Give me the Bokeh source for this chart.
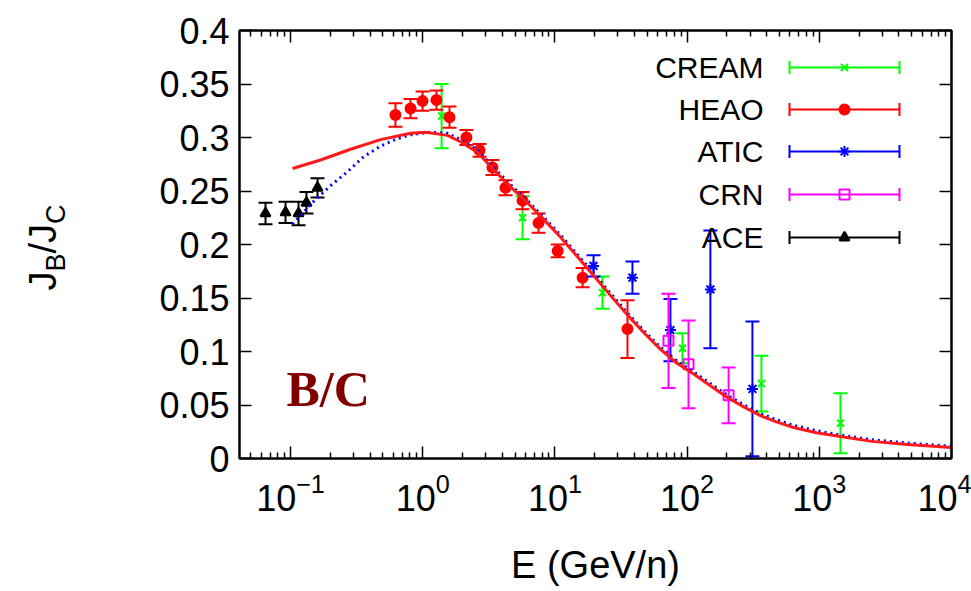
from math import log10, pi
from bokeh.plotting import figure
from bokeh.models import Range1d, LinearAxis, FixedTicker, Label, ColumnDataSource
from bokeh.core.properties import value
from bokeh.embed import file_html
from bokeh.resources import INLINE

# ---------------- data ----------------
cream_E = [1.39, 5.69, 22.9, 92.3, 365, 1446]
cream_val = [0.320, 0.225, 0.155, 0.103, 0.070, 0.033]
cream_err = [0.030, 0.020, 0.015, 0.014, 0.026, 0.028]

heao_E = [0.622, 0.809, 0.997, 1.27, 1.595, 2.14, 2.69, 3.37, 4.23, 5.69, 7.52, 10.5, 16.2, 35.4]
heao_val = [0.321, 0.327, 0.334, 0.335, 0.319, 0.300, 0.288, 0.272, 0.253, 0.241, 0.220, 0.194, 0.169, 0.121]
heao_err = [0.011, 0.009, 0.009, 0.009, 0.010, 0.007, 0.006, 0.007, 0.007, 0.008, 0.009, 0.006, 0.009, 0.027]

atic_E = [19.6, 38.6, 74.8, 150, 312]
atic_val = [0.180, 0.169, 0.120, 0.158, 0.065]
atic_err = [0.010, 0.015, 0.029, 0.055, 0.063]

crn_E = [72.3, 102.5, 206]
crn_val = [0.110, 0.088, 0.059]
crn_err = [0.044, 0.041, 0.026]

ace_E = [0.0647, 0.0917, 0.115, 0.132, 0.160]
ace_val = [0.229, 0.230, 0.229, 0.239, 0.253]
ace_err = [0.010, 0.010, 0.011, 0.010, 0.009]

# model curves
red_E = [0.1035, 0.1687, 0.2845, 0.480, 0.809, 1.05, 1.54, 1.93, 2.60, 3.43, 4.61, 6.20,
         8.3, 11.0, 14.7, 19.6, 26.5, 35.4, 47.5, 62.9, 84, 112, 150, 202, 270, 359,
         480, 638, 950, 1446, 2500, 4645, 9900]
red_val = [0.271, 0.279, 0.289, 0.298, 0.304, 0.305, 0.302, 0.296, 0.286, 0.270, 0.254, 0.239,
           0.223, 0.207, 0.189, 0.171, 0.152, 0.134, 0.117, 0.102, 0.089, 0.079, 0.068, 0.057,
           0.048, 0.040, 0.034, 0.029, 0.024, 0.0206, 0.016, 0.013, 0.0103]

blue_E = [0.1035, 0.149, 0.201, 0.27, 0.357, 0.48, 0.645, 0.85, 1.14, 1.54, 1.93, 2.60, 3.43,
          4.61, 6.20, 8.3, 11.0, 14.7, 19.6, 26.5, 35.4, 47.5, 62.9, 84, 112, 150, 202, 270,
          359, 480, 638, 950, 1446, 2500, 4645, 9900]
blue_val = [0.218, 0.239, 0.254, 0.267, 0.281, 0.291, 0.298, 0.302, 0.304, 0.303, 0.297, 0.287,
            0.271, 0.255, 0.240, 0.224, 0.208, 0.190, 0.172, 0.153, 0.135, 0.118, 0.103, 0.090,
            0.080, 0.069, 0.058, 0.049, 0.041, 0.035, 0.030, 0.025, 0.021, 0.0165, 0.0135,
            0.0105]

legend_names = ["CREAM", "HEAO", "ATIC", "CRN", "ACE"]
y_ticks = [0, 0.05, 0.1, 0.15, 0.2, 0.25, 0.3, 0.35, 0.4]
y_tick_labels = ["0", "0.05", "0.1", "0.15", "0.2", "0.25", "0.3", "0.35", "0.4"]
x_ticks = [0.1, 1, 10, 100, 1000, 10000]

# ---------------- layout ----------------
W, H = 971, 591
FL, FR, FT, FB = 239, 951, 30, 458        # frame edges in canvas px
XMIN, XMAX = 0.04113, 1.0e4
YMIN, YMAX = 0.0, 0.4
FONT = "Liberation Sans"


def px_x(px):
    """canvas x pixel -> data x (log axis)"""
    lx = log10(XMIN) + (px - FL) / (FR - FL) * (log10(XMAX) - log10(XMIN))
    return 10 ** lx


def px_y(py):
    """canvas y pixel -> data y"""
    return YMIN + (FB - py) / (FB - FT) * (YMAX - YMIN)


p = figure(width=W, height=H, x_axis_type="log",
           x_range=Range1d(XMIN, XMAX), y_range=Range1d(YMIN, YMAX),
           output_backend="svg", toolbar_location=None,
           min_border_left=FL, min_border_right=W - FR,
           min_border_top=FT, min_border_bottom=H - FB)
p.background_fill_color = "white"
p.border_fill_color = "white"
p.outline_line_color = "black"
p.outline_line_width = 2
p.xgrid.visible = False
p.ygrid.visible = False

x_minor = [m * 10 ** d for d in range(-2, 4) for m in range(2, 10) if XMIN <= m * 10 ** d <= XMAX]
xtick = FixedTicker(ticks=x_ticks, minor_ticks=x_minor)
ytick = FixedTicker(ticks=y_ticks, minor_ticks=[])


def style_axis(ax, labels=True):
    ax.axis_line_width = 2
    ax.axis_line_color = "black"
    ax.major_tick_in = 12
    ax.major_tick_out = 0
    ax.minor_tick_in = 6
    ax.minor_tick_out = 0
    ax.major_tick_line_width = 1.5
    ax.minor_tick_line_width = 1.5
    ax.major_tick_line_color = "black"
    ax.minor_tick_line_color = "black"
    if labels:
        ax.major_label_text_font = FONT
        ax.major_label_text_font_size = "36px"
        ax.major_label_text_color = "black"
    else:
        ax.major_label_standoff = 0


xa = p.xaxis[0]
xa.ticker = xtick
style_axis(xa)
xa.major_label_standoff = 14
xa.axis_label = "E (GeV/n)"
xa.axis_label_text_font = FONT
xa.axis_label_text_font_size = "38px"
xa.axis_label_text_font_style = "normal"
xa.axis_label_text_color = "black"
xa.axis_label_standoff = 30

ya = p.yaxis[0]
ya.ticker = ytick
style_axis(ya)
ya.major_label_standoff = 10
ya.major_label_overrides = {t: s for t, s in zip(y_ticks, y_tick_labels)}

# mirrored tick axes (top / right), no labels
top_ax = LinearAxis(ticker=xtick, major_label_overrides={t: "" for t in x_ticks})
style_axis(top_ax, labels=False)
p.add_layout(top_ax, "above")
right_ax = LinearAxis(ticker=ytick, major_label_overrides={t: "" for t in y_ticks})
style_axis(right_ax, labels=False)
p.add_layout(right_ax, "right")


# ---------------- data series ----------------
def series(E, val, err, color, marker, size, filled):
    lo = [v - e for v, e in zip(val, err)]
    hi = [v + e for v, e in zip(val, err)]
    src = ColumnDataSource(dict(E=E, val=val, lo=lo, hi=hi))
    p.segment(x0="E", y0="lo", x1="E", y1="hi", source=src, line_color=color, line_width=2)
    p.scatter(x="E", y="lo", marker="dash", size=14, line_color=color, line_width=2, source=src)
    p.scatter(x="E", y="hi", marker="dash", size=14, line_color=color, line_width=2, source=src)
    p.scatter(x="E", y="val", marker=marker, size=size, line_color=color, line_width=2,
              fill_color=color if filled else None, source=src)


styles = [
    (cream_E, cream_val, cream_err, "#00ff00", "x", 10, False),
    (heao_E, heao_val, heao_err, "#ff0000", "circle", 10, True),
    (atic_E, atic_val, atic_err, "#0000ff", "asterisk", 11, False),
    (crn_E, crn_val, crn_err, "#ff00ff", "square", 10, False),
    (ace_E, ace_val, ace_err, "#000000", "triangle", 10, True),
]
for s in styles:
    series(*s)

# model curves
p.line(blue_E, [v + 0.001 for v in blue_val], line_color="#0000ff", line_width=3, line_dash="2 4")
p.line(red_E, red_val, line_color="#ff1a1a", line_width=3)

# ---------------- legend (drawn by hand to show the error-bar caps) ----------------
row_px = [67, 109, 151, 194, 237]
lx0, lx1, lxm, ltext = px_x(789), px_x(899), px_x(844), px_x(763)
for i, (name, s) in enumerate(zip(legend_names, styles)):
    color, marker, size, filled = s[3], s[4], s[5], s[6]
    yy = px_y(row_px[i])
    p.segment(x0=[lx0], y0=[yy], x1=[lx1], y1=[yy], line_color=color, line_width=2)
    p.scatter(x=[lx0, lx1], y=[yy, yy], marker="dash", angle=pi / 2, size=13,
              line_color=color, line_width=2)
    p.scatter(x=[lxm], y=[yy], marker=marker, size=size, line_color=color, line_width=2,
              fill_color=color if filled else None)
    p.text(x=[ltext], y=[yy], text=[name], text_align="right", text_baseline="middle",
           text_font=value(FONT), text_font_size="30px", text_color="black")

# B/C label
p.add_layout(Label(x=px_x(286), y=px_y(388), text="B/C", text_align="left",
                   text_baseline="middle", text_font="Liberation Serif",
                   text_font_style="bold", text_font_size="50px", text_color="#800000"))

# y-axis label J_B/J_C (rotated, with subscripts); placed in the left panel so it is not
# clipped to the frame
main_fs, sub_fs = 38, 27
base_px, sub_px = 42, 55
pieces = [("J", main_fs, base_px, 0.50), ("B", sub_fs, sub_px, 0.667),
          ("/J", main_fs, base_px, 0.778), ("C", sub_fs, sub_px, 0.722)]
ypos = 290
for txt, fs, bx, wem in pieces:
    p.add_layout(Label(x=px_x(bx), y=px_y(ypos), text=txt, angle=pi / 2,
                       text_align="left", text_baseline="alphabetic",
                       text_font=FONT, text_font_size=f"{fs}px", text_color="black"),
                 "left")
    ypos -= fs * wem

open("out.html", "w").write(file_html(p, INLINE))
